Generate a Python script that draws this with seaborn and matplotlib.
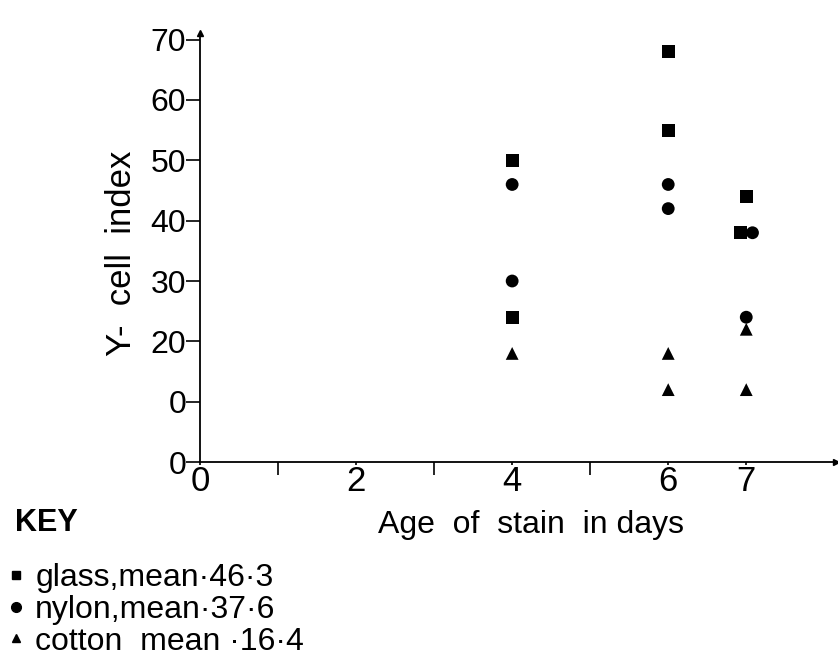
import pandas as pd
import matplotlib.pyplot as plt
import seaborn as sns

# data
glass_x = [4, 4, 6, 6, 7, 6.93]
glass_y = [50, 24, 68, 55, 44, 38]
nylon_x = [4, 4, 6, 6, 7.08, 7]
nylon_y = [46, 30, 46, 42, 38, 24]
cotton_x = [4, 6, 6, 7, 7]
cotton_y = [18, 18, 12, 22, 12]

labels = ['glass,mean\u00b746\u00b73', 'nylon,mean\u00b737\u00b76', 'cotton  mean \u00b716\u00b74']
x_ticks = [0, 2, 4, 6, 7]
y_ticks = [0, 10, 20, 30, 40, 50, 60, 70]
y_ticklabels = ['0', '0', '20', '30', '40', '50', '60', '70']

df = pd.DataFrame({
    'age': glass_x + nylon_x + cotton_x,
    'index': glass_y + nylon_y + cotton_y,
    'fibre': [labels[0]] * len(glass_x) + [labels[1]] * len(nylon_x) + [labels[2]] * len(cotton_x),
})

sns.set_style('white', {'text.color': 'black', 'axes.labelcolor': 'black',
                        'xtick.color': 'black', 'ytick.color': 'black',
                        'xtick.bottom': True, 'ytick.left': True})
plt.rcParams['font.family'] = ['Liberation Sans', 'DejaVu Sans']

fig = plt.figure(figsize=(8.38, 6.67), dpi=100)
ax = fig.add_axes([0.2387, 0.3073, 0.7589, 0.6432])

sns.scatterplot(data=df, x='age', y='index', hue='fibre', style='fibre',
                palette=['black'] * 3, markers=['s', 'o', '^'],
                s=85, edgecolor='none', ax=ax, legend=False)

ax.set_xlim(0, 8.15)
ax.set_ylim(0, 71.1)
for side in ['top', 'right']:
    ax.spines[side].set_visible(False)
for side in ['left', 'bottom']:
    ax.spines[side].set_linewidth(1.3)
    ax.spines[side].set_color('black')

ax.set_xticks(x_ticks)
ax.set_xticks([1, 3, 5], minor=True)
ax.set_yticks(y_ticks)
ax.set_yticklabels(y_ticklabels)
ax.tick_params(axis='y', which='major', direction='out', length=10, width=1.2,
               labelsize=23, pad=0)
ax.tick_params(axis='x', which='major', direction='out', length=2, width=1.2,
               labelsize=25, pad=0)
ax.tick_params(axis='x', which='minor', direction='out', length=9, width=1.2)

# axis arrows
ax.plot(1, 0, '>k', transform=ax.transAxes, clip_on=False, markersize=5)
ax.plot(0, 1, '^k', transform=ax.transAxes, clip_on=False, markersize=5)

ax.set_xlabel('Age  of  stain  in days', fontsize=23)
ax.xaxis.set_label_coords(0.52, -0.112)
ax.set_ylabel('Y-  cell  index', fontsize=25)
ax.yaxis.set_label_coords(-0.098, 0.487)

# key
fig.text(0.018, 0.216, 'KEY', fontsize=22, fontweight='bold', va='center', ha='left')
handles = [plt.Line2D([], [], marker=m, color='black', linestyle='none', markersize=ms)
           for m, ms in zip(['s', 'o', '^'], [5.5, 7, 6])]
leg = fig.legend(handles, labels, loc='upper left', bbox_to_anchor=(0.0, 0.165),
                 frameon=False, fontsize=23,
                 handlelength=0.6, handletextpad=0.3, labelspacing=0.05,
                 borderaxespad=0, borderpad=0.2)

fig.savefig('out.png', dpi=100)
